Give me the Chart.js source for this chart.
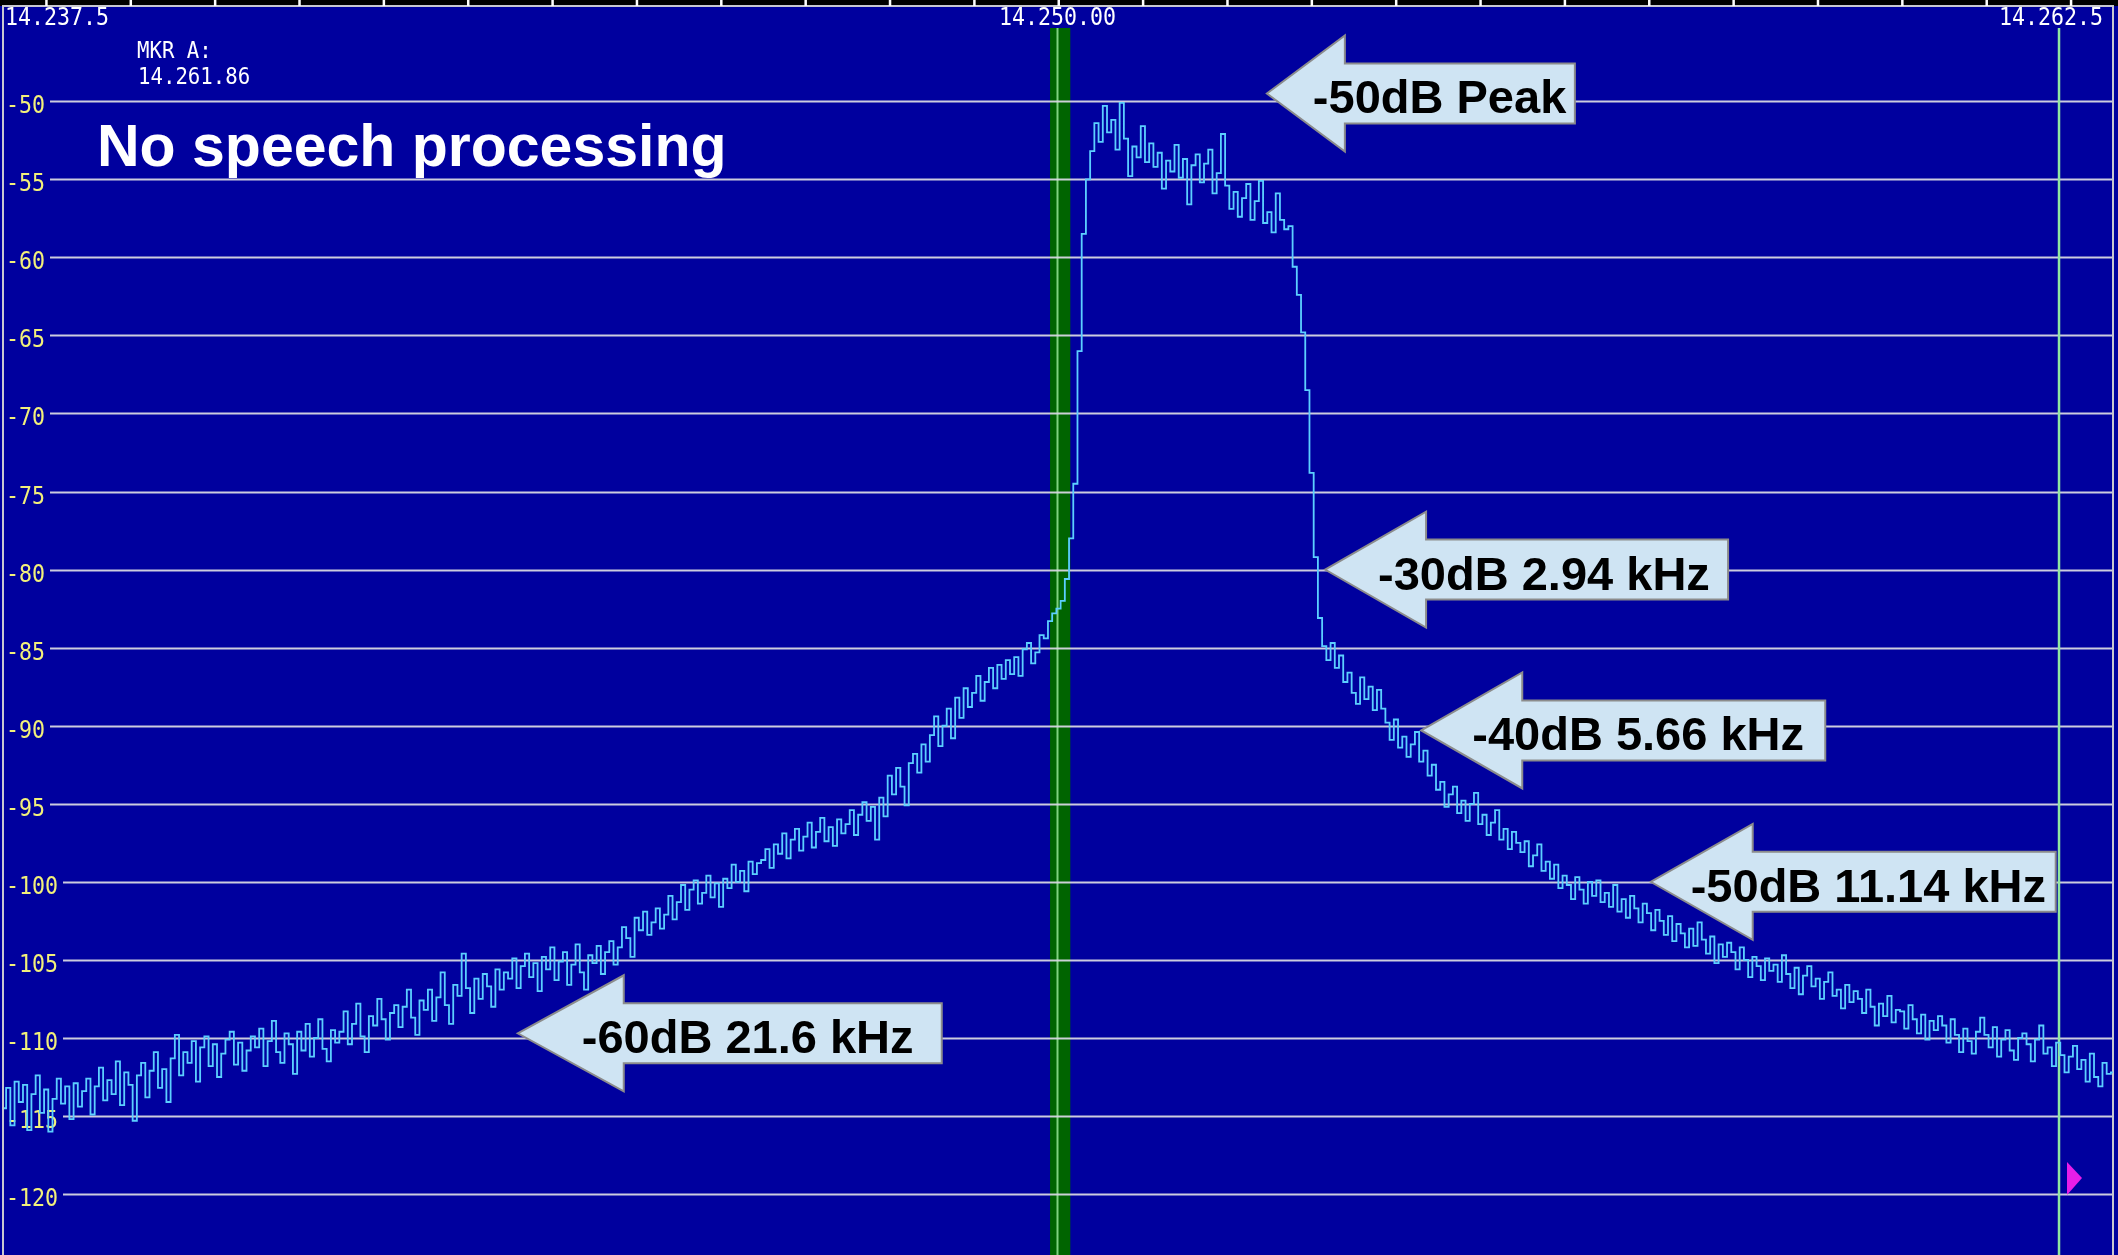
<!DOCTYPE html>
<html>
<head>
<meta charset="utf-8">
<title>No speech processing</title>
<script src="https://cdn.jsdelivr.net/npm/chart.js@4.4.1/dist/chart.umd.min.js"></script>
<style>
  html, body { margin: 0; padding: 0; background: #00009e; overflow: hidden; }
  canvas { display: block; }
</style>
</head>
<body>
<canvas id="scope" width="2118" height="1255"></canvas>
<script>
// frequency axis: kHz offset from 14.250 MHz, one bin every 0.05 kHz
const FREQ_START = -12.5;
const FREQ_STEP = 0.05;

// trace level in dBm, left to right
const levels = [
  -114.5, -113.2, -115.6, -112.8, -114.1, -113.0, -115.9, -113.6, -112.4, -114.8, -113.3, -116.0, -113.9, -112.6, -114.2, -113.1, -115.2, -112.9, -114.4, -113.4,
  -112.6, -114.9, -113.1, -111.9, -114.0, -112.7, -113.6, -111.5, -114.3, -112.2, -113.0, -115.3, -112.4, -111.6, -113.8, -112.1, -110.9, -113.2, -112.0, -114.1,
  -111.3, -109.8, -112.4, -110.9, -111.6, -110.2, -112.8, -110.6, -109.9, -111.8, -110.4, -112.5, -111.0, -110.1, -109.6, -111.7, -110.3, -112.1, -110.8, -109.9,
  -110.6, -109.4, -111.8, -110.2, -108.9, -110.9, -111.6, -109.7, -110.4, -112.3, -109.6, -110.8, -109.1, -111.2, -110.0, -108.8, -110.7, -111.5, -109.5, -110.3,
  -109.6, -108.3, -110.4, -109.1, -107.8, -109.9, -110.9, -108.6, -109.2, -107.5, -108.8, -110.1, -108.4, -107.9, -109.3, -108.0, -106.9, -108.7, -109.8, -107.6,
  -108.2, -106.9, -108.9, -107.4, -105.8, -107.9, -109.1, -106.6, -107.3, -104.6, -106.8, -108.4, -106.2, -107.5, -105.9, -106.7, -108.0, -105.6, -106.9, -105.8,
  -106.2, -104.9, -106.8, -105.4, -104.6, -106.1, -105.2, -107.0, -104.8, -105.6, -104.2, -106.3, -105.1, -104.5, -106.6, -105.3, -104.0, -105.8, -106.9, -104.7,
  -105.2, -104.1, -105.9, -104.5, -103.8, -105.3, -104.2, -102.9, -103.6, -104.8, -102.3, -103.1, -101.9, -103.4, -102.6, -101.7, -103.0, -102.1, -100.9, -102.4,
  -101.3, -100.2, -101.8, -100.5, -99.9, -101.4, -100.7, -99.6, -101.0, -100.1, -101.6, -99.8, -100.4, -98.9, -100.0, -99.3, -100.6, -98.7, -99.5, -98.8,
  -98.6, -97.9, -99.1, -97.6, -98.2, -96.9, -98.5, -97.3, -96.6, -98.0, -97.1, -96.2, -97.8, -96.8, -95.9, -97.4, -96.5, -97.7, -96.0, -96.9,
  -96.3, -95.4, -97.0, -95.7, -94.9, -96.1, -95.2, -97.3, -94.6, -95.8, -93.2, -94.4, -92.7, -93.9, -95.1, -92.4, -91.8, -93.0, -91.2, -92.3,
  -90.6, -89.4, -91.3, -90.0, -88.9, -90.8, -88.2, -89.5, -87.6, -88.8, -87.9, -86.8, -88.4, -87.2, -86.3, -87.6, -86.1, -87.0, -85.8, -86.7,
  -85.6, -86.8, -85.1, -84.7, -86.0, -85.3, -84.2, -84.4, -83.3, -82.8, -82.5, -82.0, -80.6, -78.0, -74.5, -66.0, -58.5, -55.0, -53.2, -51.4,
  -52.6, -50.3, -52.0, -51.2, -53.1, -50.1, -52.4, -54.8, -52.9, -53.6, -51.6, -53.9, -52.7, -54.2, -53.3, -55.6, -53.8, -54.5, -52.8, -54.9,
  -53.7, -56.6, -54.1, -53.4, -55.2, -54.0, -53.1, -55.9, -54.6, -52.1, -55.4, -56.9, -55.8, -57.4, -56.2, -55.3, -57.6, -56.4, -55.1, -57.8,
  -57.1, -58.4, -55.9, -57.6, -58.2, -58.0, -60.6, -62.4, -64.8, -68.5, -73.8, -79.2, -83.1, -84.9, -85.8, -84.7, -86.3, -85.5, -87.2, -86.6,
  -87.9, -88.6, -86.9, -88.3, -87.5, -89.0, -87.7, -88.9, -89.8, -90.9, -89.6, -91.4, -90.7, -92.0, -91.2, -90.4, -92.3, -91.6, -93.2, -92.5,
  -94.1, -93.6, -95.2, -94.4, -93.9, -95.6, -94.8, -96.1, -95.0, -94.3, -96.3, -95.7, -97.0, -96.2, -95.4, -97.3, -96.6, -97.9, -96.8, -97.5,
  -98.1, -97.4, -99.0, -98.3, -97.6, -99.3, -98.7, -99.8, -98.9, -100.4, -99.6, -100.2, -101.1, -99.7, -100.5, -101.4, -100.0, -100.9, -99.9, -101.3,
  -100.7, -101.6, -100.2, -101.9, -101.1, -102.3, -100.9, -101.7, -102.6, -101.4, -102.0, -103.1, -101.8, -102.5, -103.4, -102.2, -103.8, -102.7, -103.3, -104.2,
  -103.0, -104.1, -102.6, -103.7, -104.6, -103.5, -105.2, -104.0, -104.8, -103.9, -104.5, -105.6, -104.2, -105.0, -106.1, -104.8, -105.4, -106.3, -104.9, -105.7,
  -105.3, -106.4, -104.7, -105.9, -106.8, -105.5, -107.2, -106.0, -105.4, -106.7, -106.2, -107.5, -106.4, -105.8, -107.3, -106.9, -108.1, -106.6, -107.7, -107.0,
  -107.5, -108.4, -106.9, -108.0, -109.2, -107.8, -108.6, -107.3, -109.0, -108.2, -108.3, -109.4, -107.9, -108.8, -109.7, -108.5, -110.1, -108.9, -109.5, -108.6,
  -109.2, -110.3, -108.8, -109.8, -110.9, -109.4, -110.2, -111.0, -109.6, -108.7, -109.8, -110.6, -109.3, -111.2, -110.1, -109.5, -110.8, -111.4, -110.0, -109.7,
  -110.4, -111.5, -110.1, -109.2, -111.0, -110.6, -111.8, -110.3, -111.1, -112.2, -111.2, -110.5, -112.0, -111.4, -112.8, -111.0, -112.5, -113.1, -111.6, -112.3,
  -112.2
];

// axis labels
const yTicks = [-50, -55, -60, -65, -70, -75, -80, -85, -90, -95, -100, -105, -110, -115, -120];
const xTickValues = [-12.5, 0, 12.5];
const xTickLabels = ['14.237.5', '14.250.00', '14.262.5'];
const markerFreq = 11.86;
const markerLabel = ['MKR A:', '14.261.86'];
const title = 'No speech processing';

// callouts: text, tip frequency (kHz offset), tip level (dB)
const noteLabels = ['-50dB Peak', '-30dB 2.94 kHz', '-40dB 5.66 kHz', '-50dB 11.14 kHz', '-60dB 21.6 kHz'];
const noteFreqs = [2.47, 3.16, 4.30, 7.02, -6.41];
const noteLevels = [-49.5, -80, -90.3, -100, -109.7];

// arrow drawing sizes (pixels)
const arrowShapes = [
  { len: 308, head: 78, text: 46 },
  { len: 403, head: 101, text: 53 },
  { len: 404, head: 101, text: 51 },
  { len: 405, head: 102, text: 40 },
  { len: 424, head: 106, text: 64 }
];

const points = levels.map((v, i) => ({ x: FREQ_START + i * FREQ_STEP, y: v }));

function monoText(ctx, str, x, y, align, size, color) {
    ctx.save();
    ctx.font = size + "px 'DejaVu Sans Mono', monospace";
    ctx.fillStyle = color;
    ctx.textAlign = 'left';
    ctx.textBaseline = 'alphabetic';
    const w = ctx.measureText(str).width * 0.9;
    let x0 = x;
    if (align === 'center') x0 = x - w / 2;
    if (align === 'right') x0 = x - w;
    ctx.translate(x0, y);
    ctx.scale(0.9, 1);
    ctx.fillText(str, 0, 0);
    ctx.restore();
    return w;
}

function drawArrow(ctx, tx, ty, shape, text) {
    const headHalf = 58, shaftHalf = 30;
    const end = tx + shape.len, back = tx + shape.head;
    ctx.save();
    ctx.beginPath();
    ctx.moveTo(tx, ty);
    ctx.lineTo(back, ty - headHalf);
    ctx.lineTo(back, ty - shaftHalf);
    ctx.lineTo(end, ty - shaftHalf);
    ctx.lineTo(end, ty + shaftHalf);
    ctx.lineTo(back, ty + shaftHalf);
    ctx.lineTo(back, ty + headHalf);
    ctx.closePath();
    ctx.fillStyle = '#cfe4f3';
    ctx.fill();
    ctx.lineWidth = 2;
    ctx.strokeStyle = '#8c8c8c';
    ctx.stroke();
    ctx.fillStyle = '#000';
    ctx.font = "bold 47px 'Liberation Sans', Arial, sans-serif";
    ctx.textAlign = 'left';
    ctx.textBaseline = 'alphabetic';
    ctx.fillText(text, tx + shape.text, ty + 20);
    ctx.restore();
}

const scopePlugin = {
    id: 'scope',
    beforeDraw(chart) {
        const { ctx, width, height, chartArea } = chart;
        ctx.save();
        ctx.fillStyle = '#00009e';
        ctx.fillRect(0, 0, width, height);
        ctx.fillStyle = '#000';
        ctx.fillRect(0, 0, width, chartArea.top);
        ctx.restore();
    },
    beforeDatasetsDraw(chart) {
        const { ctx, chartArea } = chart;
        const xs = chart.scales.x, ys = chart.scales.y;
        ctx.save();

        // centre frequency band
        const c0 = xs.getPixelForValue(-0.1), c1 = xs.getPixelForValue(0.14);
        ctx.fillStyle = '#006400';
        ctx.fillRect(c0, 28, c1 - c0, chartArea.bottom - 28);
        ctx.strokeStyle = '#7fd27f';
        ctx.lineWidth = 2;
        ctx.beginPath();
        const cx = xs.getPixelForValue(0) - 1;
        ctx.moveTo(cx, 28); ctx.lineTo(cx, chartArea.bottom);
        ctx.stroke();

        // level grid and labels
        yTicks.forEach(v => {
            const y = Math.round(ys.getPixelForValue(v)) + 0.5;
            const w = monoText(ctx, String(v), 6, y + 11, 'left', 24, '#f2f07a');
            ctx.strokeStyle = 'rgba(215,215,225,0.95)';
            ctx.lineWidth = 2;
            ctx.beginPath();
            ctx.moveTo(6 + w + 5, y);
            ctx.lineTo(chartArea.right, y);
            ctx.stroke();
        });

        // marker line
        const mx = xs.getPixelForValue(markerFreq);
        ctx.strokeStyle = '#8fe6a0';
        ctx.lineWidth = 2.5;
        ctx.beginPath();
        ctx.moveTo(mx, 28); ctx.lineTo(mx, chartArea.bottom);
        ctx.stroke();

        // frame
        ctx.strokeStyle = '#c8c8d0';
        ctx.lineWidth = 2;
        ctx.beginPath();
        ctx.moveTo(3, chartArea.bottom); ctx.lineTo(3, chartArea.top);
        ctx.lineTo(chartArea.right, chartArea.top); ctx.lineTo(chartArea.right, chartArea.bottom);
        ctx.stroke();

        // kHz ticks on top
        ctx.fillStyle = '#fff';
        for (let k = -12; k <= 12; k++) {
            const x = xs.getPixelForValue(k);
            ctx.fillRect(x - 1, 0, 2.5, chartArea.top);
        }

        // frequency labels
        const align = ['left', 'center', 'right'];
        const offs = [1, -1, -10];
        xTickValues.forEach((v, i) => {
            monoText(ctx, xTickLabels[i], xs.getPixelForValue(v) + offs[i], 25, align[i], 24, '#ffffff');
        });
        monoText(ctx, markerLabel[0], 137, 58, 'left', 23, '#ffffff');
        monoText(ctx, markerLabel[1], 138, 84, 'left', 23, '#ffffff');
        ctx.restore();
    },
    afterDatasetsDraw(chart) {
        const { ctx, chartArea } = chart;
        const xs = chart.scales.x, ys = chart.scales.y;
        ctx.save();

        // marker flag
        ctx.fillStyle = '#e81ee8';
        ctx.beginPath();
        ctx.moveTo(chartArea.right - 46, 1162);
        ctx.lineTo(chartArea.right - 31, 1178);
        ctx.lineTo(chartArea.right - 46, 1195);
        ctx.closePath();
        ctx.fill();

        ctx.fillStyle = '#fff';
        ctx.font = "bold 59px 'Liberation Sans', Arial, sans-serif";
        ctx.textAlign = 'left';
        ctx.textBaseline = 'alphabetic';
        ctx.fillText(title, 97, 166);

        noteLabels.forEach((t, i) => {
            drawArrow(ctx, xs.getPixelForValue(noteFreqs[i]), ys.getPixelForValue(noteLevels[i]), arrowShapes[i], t);
        });
        ctx.restore();
    }
};

new Chart(document.getElementById('scope').getContext('2d'), {
    type: 'line',
    data: {
        datasets: [{
            data: points,
            borderColor: '#5ccfff',
            borderWidth: 1.8,
            pointRadius: 0,
            stepped: 'middle',
            fill: false
        }]
    },
    options: {
        responsive: false,
        devicePixelRatio: 1,
        animation: false,
        layout: { padding: { left: 4, right: 5, top: 6, bottom: 0 } },
        scales: {
            x: { type: 'linear', min: -12.5, max: 12.5, display: false },
            y: { min: -123.9, max: -43.9, display: false }
        },
        plugins: { legend: { display: false }, tooltip: { enabled: false } }
    },
    plugins: [scopePlugin]
});
</script>
</body>
</html>
